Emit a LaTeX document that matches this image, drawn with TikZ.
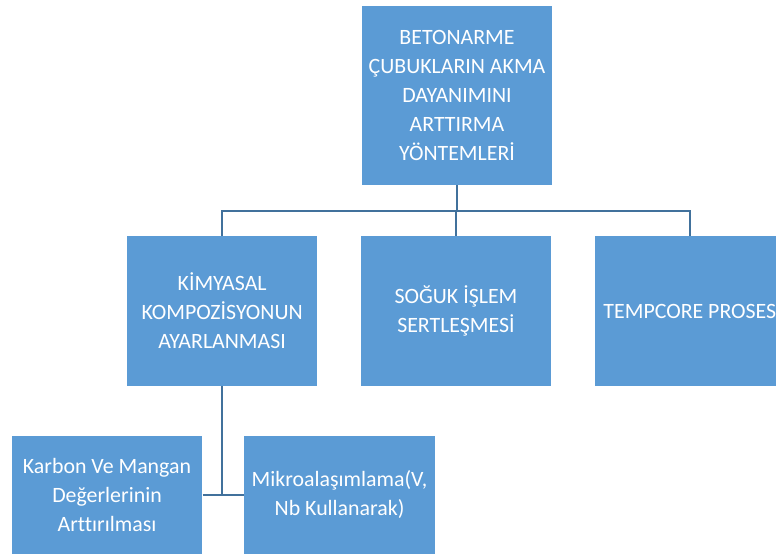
\documentclass[tikz,border=0pt]{standalone}
\usepackage{fontspec}
\setmainfont[Ligatures=NoCommon]{Carlito}
\usetikzlibrary{positioning}

\definecolor{boxblue}{HTML}{5B9BD5}
\definecolor{lineblue}{HTML}{41719C}

\begin{document}
\begin{tikzpicture}[x=0.75pt,y=-0.75pt,
    block/.style={fill=boxblue,text=white,align=center,inner sep=0pt,
        minimum width=143pt,minimum height=112.5pt,
        font=\fontsize{16.4}{21.75}\selectfont},
    link/.style={draw=lineblue,line width=1.7pt}]
    \useasboundingbox (0,0) rectangle (776,554);
    \clip (0,0) rectangle (776,554);

    \node[block, minimum height=134pt] (top) at (457,95.5)
        {BETONARME\\ÇUBUKLARIN AKMA\\DAYANIMINI\\ARTTIRMA\\YÖNTEMLERİ};
    \node[block] (soguk) at (456,311) {SOĞUK İŞLEM\\SERTLEŞMESİ};
    \node[block] [left=32pt of soguk] (kimya) {KİMYASAL\\KOMPOZİSYONUN\\AYARLANMASI};
    \node[block] [right=32pt of soguk] (tempcore) {TEMPCORE PROSES};
    \node[block, minimum height=88.5pt] (karbon) at (107,495)
        {Karbon Ve Mangan\\Değerlerinin\\Arttırılması};
    \node[block, minimum height=88.5pt] [right=31pt of karbon] (mikro)
        {Mikroalaşımlama(V,\\Nb Kullanarak)};

    \coordinate (bus) at (457,211);
    \path[link]
    (top.south) -- (bus)
    (kimya.north) |- (bus)
    (tempcore.north) |- (bus)
    (soguk.north) -- (soguk.north |- bus)
    (kimya.south) -- (kimya.south |- karbon.east)
    (karbon.east) -- (mikro.west)
    ;
\end{tikzpicture}
\end{document}
